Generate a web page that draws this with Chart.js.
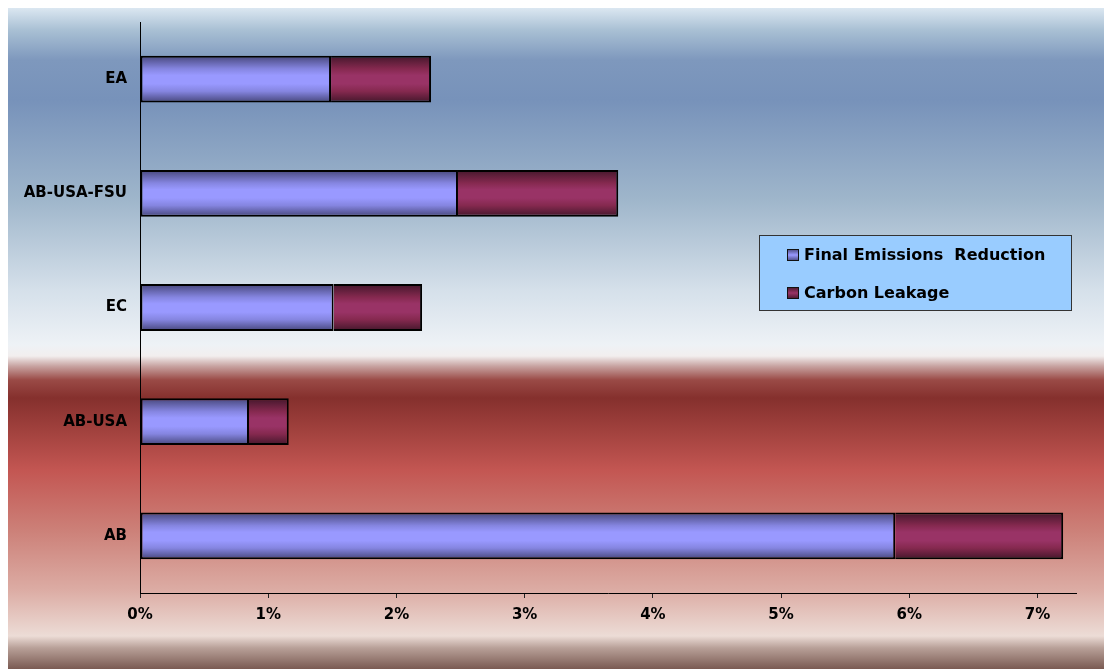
<!DOCTYPE html>
<html>
<head>
<meta charset="utf-8">
<script src="https://cdn.jsdelivr.net/npm/chart.js@4/dist/chart.umd.min.js"></script>
<style>
  html, body { margin: 0; padding: 0; background: #fff; }
  #wrap { width: 1110px; height: 669px; position: relative; }
</style>
</head>
<body>
<div id="wrap"><canvas id="chart"></canvas></div>
<script>
// ---- data ----
const regions   = ['EA', 'AB-USA-FSU', 'EC', 'AB-USA', 'AB'];
const reduction = [1.49, 2.48, 1.51, 0.85, 5.89];
const leakage   = [0.78, 1.25, 0.69, 0.31, 1.31];
const xTicks    = [0, 1, 2, 3, 4, 5, 6, 7];
const seriesNames = ['Final Emissions  Reduction', 'Carbon Leakage'];

const FONT = '"DejaVu Sans", Verdana, sans-serif';
const BAR_PCT = 0.41;

// cylinder-style shading for each bar
function shade(dark, mid, light) {
  return ctx => {
    const chart = ctx.chart;
    const y = chart.scales && chart.scales.y;
    if (!y || ctx.type !== 'data' || !isFinite(y.height)) return light;
    const c = y.getPixelForValue(ctx.dataIndex);
    const h = y.height / regions.length * BAR_PCT;
    const g = chart.ctx.createLinearGradient(0, c - h / 2, 0, c + h / 2);
    g.addColorStop(0, dark);
    g.addColorStop(0.28, mid);
    g.addColorStop(0.42, light);
    g.addColorStop(0.6, light);
    g.addColorStop(0.76, mid);
    g.addColorStop(1, dark);
    return g;
  };
}
const blueShade   = ['#46467a', '#8585e0', '#9999ff'];
const maroonShade = ['#43172b', '#85294f', '#993366'];

// page background: blue top, pale middle, red band, pink bottom
const bgPlugin = {
  id: 'bg',
  beforeDraw(chart) {
    const c = chart.ctx;
    const top = 8, bottom = 669, left = 8, right = 1104;
    const H = bottom - top;
    const stops = [
      [8, '#dbe7f1'], [30, '#a9c0d4'], [60, '#7e98bd'], [100, '#7792ba'],
      [200, '#9fb6cb'], [290, '#d5e0ea'], [345, '#eef2f6'], [356, '#f2eeee'],
      [366, '#c8a4a2'], [380, '#9a4a46'], [398, '#85302d'], [470, '#c35652'],
      [530, '#cc8078'], [590, '#dcaca4'], [636, '#ecdcd6'], [648, '#b8a098'],
      [669, '#7a5a52']
    ];
    const g = c.createLinearGradient(0, top, 0, bottom);
    stops.forEach(([y, col]) => g.addColorStop((y - top) / H, col));
    c.save();
    c.fillStyle = g;
    c.fillRect(left, top, right - left, H);
    c.restore();
  }
};

// legend box drawn inside the plot
const legendPlugin = {
  id: 'boxLegend',
  afterDraw(chart) {
    const c = chart.ctx;
    c.save();
    c.fillStyle = '#99ccff';
    c.fillRect(759.5, 235.5, 312, 75);
    c.strokeStyle = '#333';
    c.lineWidth = 1;
    c.strokeRect(759.5, 235.5, 312, 75);
    const rows = [255, 293];
    const cols = [blueShade, maroonShade];
    chart.data.datasets.forEach((ds, i) => {
      const y = rows[i];
      const g = c.createLinearGradient(0, y - 6, 0, y + 6);
      g.addColorStop(0, cols[i][0]);
      g.addColorStop(0.5, cols[i][2]);
      g.addColorStop(1, cols[i][0]);
      c.fillStyle = g;
      c.fillRect(787.5, y - 5.5, 11, 11);
      c.strokeStyle = '#111';
      c.strokeRect(787.5, y - 5.5, 11, 11);
      c.fillStyle = '#000';
      c.font = 'bold 16px ' + FONT;
      c.textBaseline = 'middle';
      c.textAlign = 'left';
      c.fillText(ds.label, 804, y + 1);
    });
    c.restore();
  }
};

new Chart(document.getElementById('chart'), {
  type: 'bar',
  data: {
    labels: regions,
    datasets: [
      {
        label: seriesNames[0],
        data: reduction,
        backgroundColor: shade(...blueShade),
        borderColor: '#000',
        borderWidth: 2,
        borderSkipped: false
      },
      {
        label: seriesNames[1],
        data: leakage,
        backgroundColor: shade(...maroonShade),
        borderColor: '#000',
        borderWidth: { top: 2, bottom: 2, right: 2, left: 0 },
        borderSkipped: false
      }
    ]
  },
  options: {
    indexAxis: 'y',
    responsive: true,
    maintainAspectRatio: false,
    animation: false,
    layout: { padding: { left: 8, top: 20, right: 34, bottom: 0 } },
    datasets: { bar: { barPercentage: BAR_PCT, categoryPercentage: 1 } },
    plugins: {
      legend: { display: false },
      tooltip: { enabled: false }
    },
    scales: {
      x: {
        stacked: true,
        min: 0,
        max: 7.3,
        afterFit: s => { s.height = 76; },
        afterBuildTicks: s => { s.ticks = xTicks.map(v => ({ value: v })); },
        ticks: {
          includeBounds: false,
          color: '#000',
          padding: 8,
          maxRotation: 0,
          font: { family: FONT, size: 15, weight: 'bold' },
          callback: v => v + '%'
        },
        grid: {
          drawOnChartArea: false,
          drawTicks: true,
          tickLength: 5,
          color: '#222'
        },
        border: { display: true, color: '#000', width: 1 }
      },
      y: {
        stacked: true,
        afterFit: s => { s.width = 132; },
        ticks: {
          color: '#000',
          padding: 13,
          font: { family: FONT, size: 15, weight: 'bold' }
        },
        grid: { drawOnChartArea: false, drawTicks: false },
        border: { display: true, color: '#000', width: 1 }
      }
    }
  },
  plugins: [bgPlugin, legendPlugin]
});
</script>
</body>
</html>
